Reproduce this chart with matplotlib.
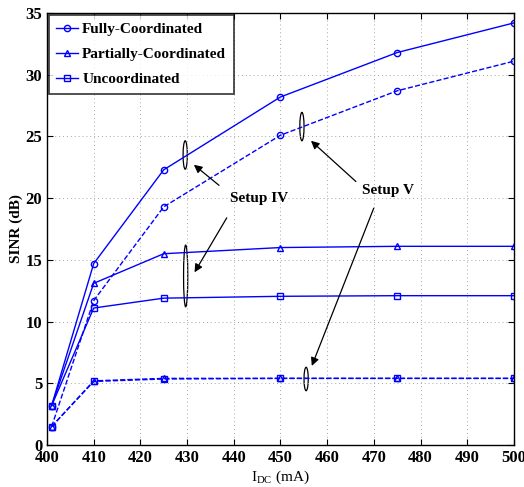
import matplotlib
matplotlib.use("Agg")
import matplotlib.pyplot as plt
from matplotlib.patches import Ellipse

plt.rcParams['font.family'] = ['Liberation Serif', 'DejaVu Serif']
plt.rcParams['mathtext.fontset'] = 'custom'
plt.rcParams['mathtext.rm'] = 'Liberation Serif'

# data
idc = [401, 410, 425, 450, 475, 500]
iv_full = [3.2, 14.7, 22.3, 28.2, 31.8, 34.2]
iv_part = [3.2, 13.1, 15.5, 16.0, 16.1, 16.1]
iv_unco = [3.2, 11.1, 11.9, 12.05, 12.1, 12.1]
v_full = [1.5, 11.7, 19.3, 25.1, 28.7, 31.1]
v_part = [1.5, 5.2, 5.4, 5.4, 5.4, 5.4]
v_unco = [1.5, 5.15, 5.35, 5.4, 5.4, 5.4]
xticks = list(range(400, 501, 10))
yticks = list(range(0, 36, 5))

fig = plt.figure(figsize=(5.24, 4.87), dpi=100)
ax = fig.add_axes([0.0897, 0.0862, 0.891, 0.887])

mk = dict(color='blue', lw=1.0, ms=4.5, mfc='none', mew=1.0)
ax.plot(idc, iv_full, '-o', label='Fully-Coordinated', **mk)
ax.plot(idc, iv_part, '-^', label='Partially-Coordinated', **mk)
ax.plot(idc, iv_unco, '-s', label='Uncoordinated', **mk)
ax.plot(idc, v_full, '--o', **mk)
ax.plot(idc, v_part, '--^', **mk)
ax.plot(idc, v_unco, '--s', **mk)

ax.set_xlim(400, 500)
ax.set_ylim(0, 35)
ax.set_xticks(xticks)
ax.set_yticks(yticks)
ax.grid(True, ls=(0, (1, 3)), color='0.65', lw=0.7)
ax.tick_params(direction='in', top=True, right=True, labelsize=12, length=4)
for lab in ax.get_xticklabels() + ax.get_yticklabels():
    lab.set_fontweight('bold')
for s in ax.spines.values():
    s.set_linewidth(1.0)

ax.set_xlabel(r'I$_{\mathrm{DC}}$ (mA)', fontsize=11, labelpad=2)
ax.set_ylabel('SINR (dB)', fontsize=11, fontweight='bold', labelpad=2)

leg = ax.legend(loc='upper left', fancybox=False, edgecolor='black',
                prop={'weight': 'bold', 'size': 11}, handlelength=1.4,
                borderaxespad=0.1, labelspacing=0.75, handletextpad=0.3,
                borderpad=0.5)
leg.get_frame().set_linewidth(1.2)

# ellipses marking groups
for cx, cy, h in [(429.6, 23.5, 2.3), (429.7, 13.7, 5.0), (454.6, 25.8, 2.3), (455.5, 5.35, 1.9)]:
    ax.add_patch(Ellipse((cx, cy), 0.9, h, fill=False, ec='black', lw=0.9))

arw = dict(arrowstyle='-|>', color='black', lw=0.9, mutation_scale=12)
ax.text(445.5, 20.0, 'Setup IV', fontsize=11, fontweight='bold', ha='center', va='center')
ax.annotate('', xy=(431.0, 22.85), xytext=(437.3, 20.9), arrowprops=arw)
ax.annotate('', xy=(431.3, 13.8), xytext=(438.8, 18.6), arrowprops=arw)
ax.text(473.0, 20.6, 'Setup V', fontsize=11, fontweight='bold', ha='center', va='center')
ax.annotate('', xy=(456.1, 24.8), xytext=(466.6, 21.2), arrowprops=arw)
ax.annotate('', xy=(456.5, 6.2), xytext=(470.2, 19.4), arrowprops=arw)

fig.savefig('out.png', dpi=100)
